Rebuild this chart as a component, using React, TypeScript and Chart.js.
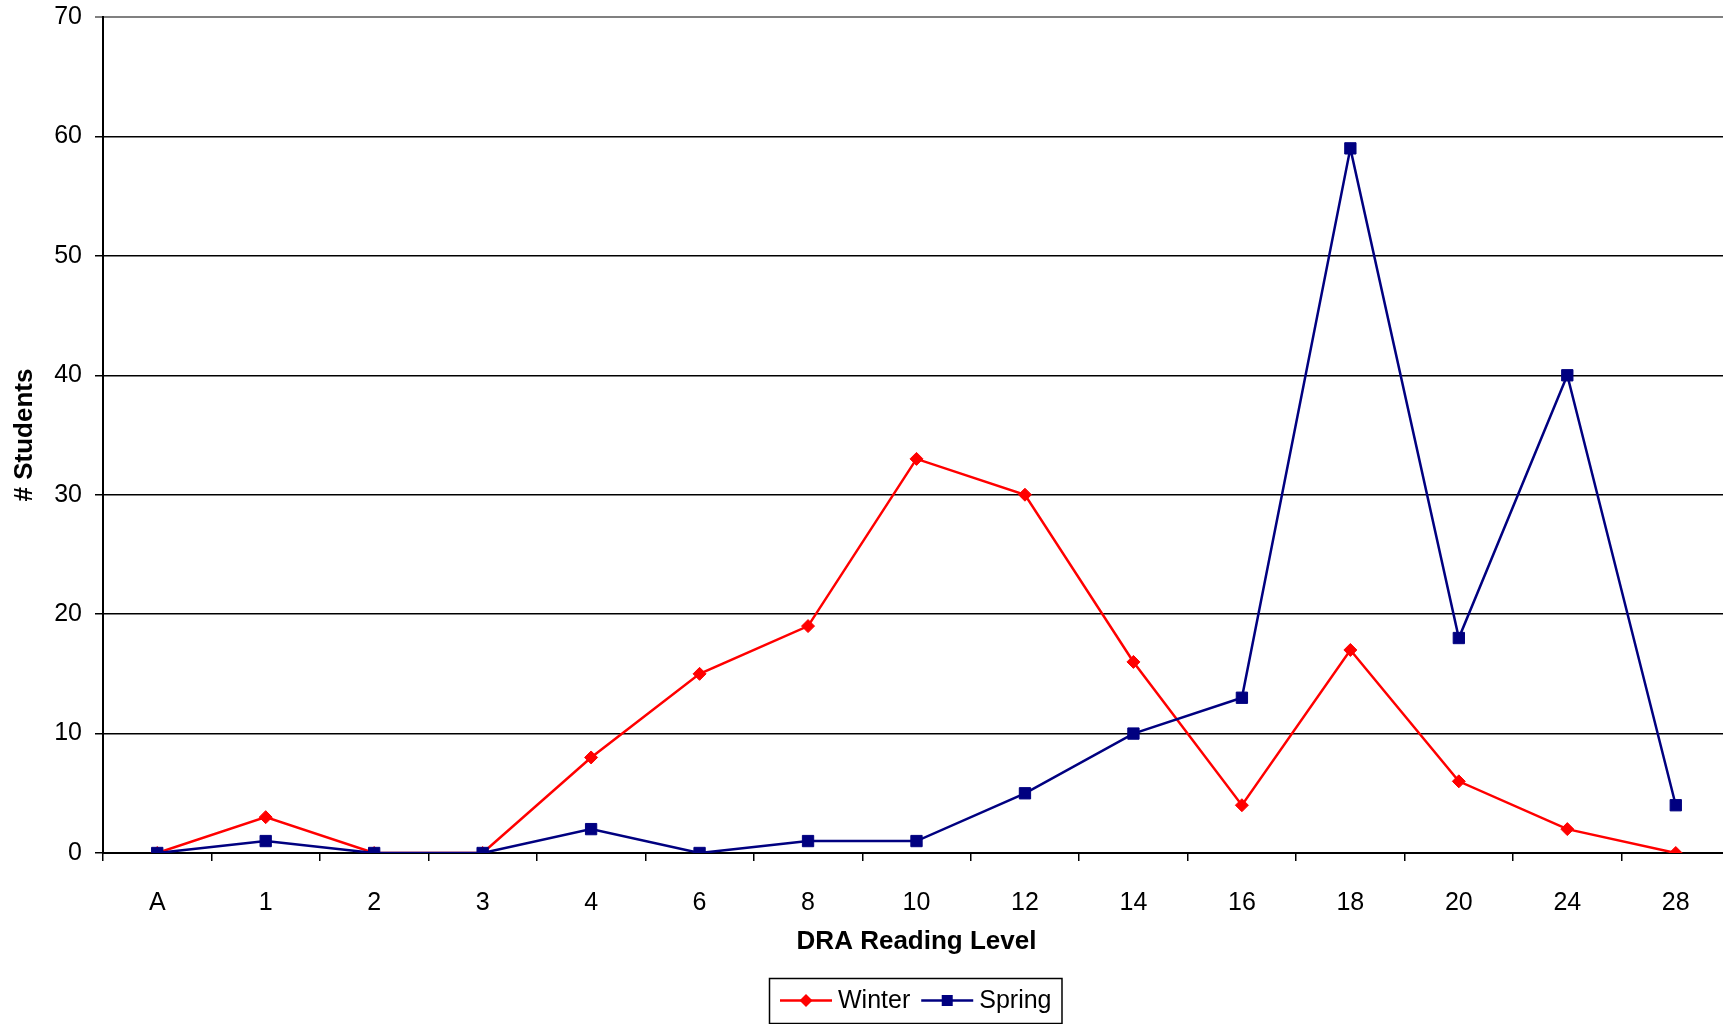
import React, { useEffect, useRef } from "react";
import { Chart, registerables } from "chart.js";

Chart.register(...registerables);

const categories = ["A", "1", "2", "3", "4", "6", "8", "10", "12", "14", "16", "18", "20", "24", "28"];
const winterValues = [0, 3, 0, 0, 8, 15, 19, 33, 30, 16, 4, 17, 6, 2, 0];
const springValues = [0, 1, 0, 0, 2, 0, 1, 1, 5, 10, 13, 59, 18, 40, 4];
const yTicks = [0, 10, 20, 30, 40, 50, 60, 70];

const FONT = "'Liberation Sans', Arial, sans-serif";
const WINTER = "#FF0000";
const SPRING = "#000080";

const boxLegend = {
  id: "boxLegend",
  afterDraw(chart: any) {
    const ctx = chart.ctx;
    const area = chart.chartArea;
    const items = chart.data.datasets.map((d: any) => ({
      label: d.label,
      color: d.borderColor,
      style: d.pointStyle,
    }));
    ctx.save();
    ctx.font = `25px ${FONT}`;
    const padL = 11, padR = 10, lineLen = 52, gapText = 6, gapItem = 11;
    let total = padL + padR;
    const widths = items.map((it: any) => ctx.measureText(it.label).width);
    items.forEach((it: any, i: number) => {
      total += lineLen + gapText + widths[i];
      if (i < items.length - 1) total += gapItem;
    });
    const cx = (area.left + area.right) / 2 - 1;
    const left = Math.round(cx - total / 2);
    const top = 978;
    const h = 45;
    ctx.strokeStyle = "#000";
    ctx.lineWidth = 1.5;
    ctx.strokeRect(left + 0.5, top + 0.5, total, h);
    let x = left + padL;
    const cy = top + h / 2;
    items.forEach((it: any, i: number) => {
      ctx.strokeStyle = it.color;
      ctx.fillStyle = it.color;
      ctx.lineWidth = 2.5;
      ctx.beginPath();
      ctx.moveTo(x, cy);
      ctx.lineTo(x + lineLen, cy);
      ctx.stroke();
      const mx = x + lineLen / 2;
      ctx.beginPath();
      if (it.style === "rectRot") {
        ctx.moveTo(mx, cy - 6.5);
        ctx.lineTo(mx + 6.5, cy);
        ctx.lineTo(mx, cy + 6.5);
        ctx.lineTo(mx - 6.5, cy);
        ctx.closePath();
      } else {
        ctx.rect(mx - 5.5, cy - 5.5, 11, 11);
      }
      ctx.fill();
      x += lineLen + gapText;
      ctx.fillStyle = "#000";
      ctx.textBaseline = "middle";
      ctx.textAlign = "left";
      ctx.fillText(it.label, x, cy + 1);
      x += widths[i] + gapItem;
    });
    ctx.restore();
  },
};

export default function App() {
  const ref = useRef<HTMLCanvasElement | null>(null);

  useEffect(() => {
    document.body.style.margin = "0";
    document.documentElement.style.overflow = "hidden";
    document.body.style.overflow = "hidden";
    const canvas = ref.current;
    if (!canvas) return;
    const chart = new Chart(canvas, {
      type: "line",
      data: {
        labels: categories,
        datasets: [
          {
            label: "Winter",
            data: winterValues,
            borderColor: WINTER,
            backgroundColor: WINTER,
            borderWidth: 2.5,
            pointStyle: "rectRot",
            pointRadius: 6.5,
            pointBorderWidth: 1,
            pointBackgroundColor: WINTER,
            pointBorderColor: WINTER,
            tension: 0,
            fill: false,
            order: 1,
          },
          {
            label: "Spring",
            data: springValues,
            borderColor: SPRING,
            backgroundColor: SPRING,
            borderWidth: 2.5,
            pointStyle: "rect",
            pointRadius: 8,
            pointBorderWidth: 1,
            pointBackgroundColor: SPRING,
            pointBorderColor: SPRING,
            tension: 0,
            fill: false,
            order: 0,
          },
        ],
      },
      options: {
        animation: false,
        responsive: true,
        maintainAspectRatio: false,
        devicePixelRatio: 1,
        layout: { autoPadding: false, padding: { top: 17, bottom: 64, left: 0, right: 0 } },
        plugins: {
          legend: { display: false },
          tooltip: { enabled: false },
        },
        scales: {
          x: {
            type: "category",
            offset: true,
            afterFit: (s: any) => {
              s.height = 107;
              s.paddingLeft = 0;
              s.paddingRight = 0;
            },
            grid: {
              display: true,
              offset: true,
              drawOnChartArea: false,
              drawTicks: true,
              tickLength: 8,
              color: "#000",
              lineWidth: 1.5,
            },
            border: { display: true, color: "#000", width: 2 },
            ticks: {
              color: "#000",
              font: { family: FONT, size: 25 },
              padding: 27,
              maxRotation: 0,
              autoSkip: false,
            },
            title: {
              display: true,
              text: "DRA Reading Level",
              color: "#000",
              font: { family: FONT, size: 26, weight: "bold" },
              padding: { top: 0, bottom: 3 },
            },
          },
          y: {
            min: yTicks[0],
            max: yTicks[yTicks.length - 1],
            afterFit: (s: any) => {
              s.width = 103;
              s.paddingTop = 0;
              s.paddingBottom = 0;
            },
            afterBuildTicks: (s: any) => {
              s.ticks = yTicks.map((v) => ({ value: v }));
            },
            grid: {
              display: true,
              drawTicks: true,
              tickLength: 8,
              color: (c: any) => (c.tick && c.tick.value === 70 ? "#808080" : "#000"),
              lineWidth: (c: any) => (c.tick && c.tick.value === 70 ? 2 : 1.5),
            },
            border: { display: true, color: "#000", width: 2 },
            ticks: {
              color: "#000",
              font: { family: FONT, size: 25 },
              padding: 13,
            },
            title: {
              display: true,
              text: "# Students",
              color: "#000",
              font: { family: FONT, size: 26, weight: "bold" },
              padding: { top: 9, bottom: 0 },
            },
          },
        },
      },
      plugins: [boxLegend],
    });
    return () => chart.destroy();
  }, []);

  return (
    <div
      style={{
        position: "fixed",
        left: 0,
        top: 0,
        width: "1723px",
        height: "1024px",
        overflow: "hidden",
        background: "#fff",
      }}
    >
      <div style={{ position: "relative", width: "1730px", height: "1024px" }}>
        <canvas ref={ref} />
      </div>
    </div>
  );
}
